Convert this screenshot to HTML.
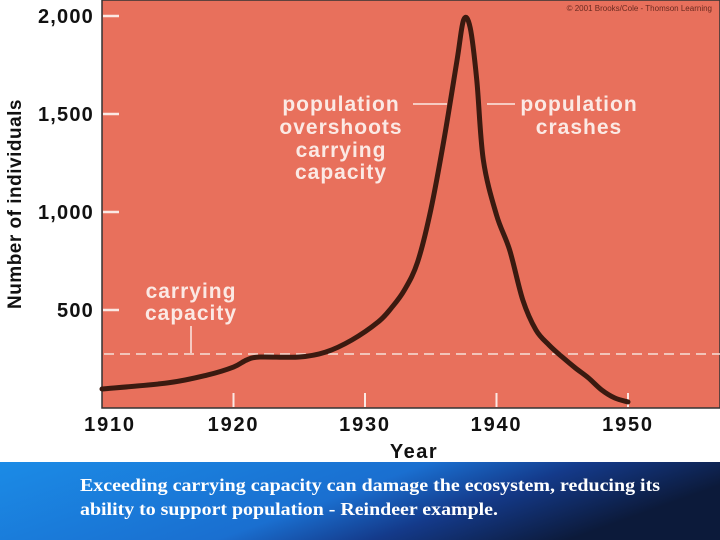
<!DOCTYPE html>
<html><head><meta charset="utf-8"><style>
html,body{margin:0;padding:0;background:#fff;width:720px;height:540px;overflow:hidden}
svg{display:block}
.t{font-family:"Liberation Sans",Arial,sans-serif;font-weight:bold}
</style></head><body>
<svg id="chart" width="720" height="540" viewBox="0 0 720 540" xmlns="http://www.w3.org/2000/svg">
<defs>
<linearGradient id="bg" x1="0" y1="0" x2="1" y2="0.3">
<stop offset="0" stop-color="#1b8be6"/><stop offset="0.55" stop-color="#1a6fd0"/><stop offset="0.75" stop-color="#143a8a"/><stop offset="1" stop-color="#0c1a3a"/>
</linearGradient>
</defs>
<rect x="102" y="0" width="618" height="408" fill="#e8705c" stroke="#333" stroke-width="1.5"/>
<text x="712" y="11" text-anchor="end" font-family="Liberation Sans,sans-serif" font-size="8" fill="#6a2a20">© 2001 Brooks/Cole - Thomson Learning</text>
<g id="axes"></g>
<line x1="104" x2="720" y1="354" y2="354" stroke="#f6e0d8" stroke-width="1.5" stroke-dasharray="10,6"/>
<path id="curve" fill="none" stroke="#3a1a10" stroke-width="5" stroke-linejoin="round" stroke-linecap="round"/>
<g class="t" fill="#fbe9e4" font-size="21" letter-spacing="1" text-anchor="middle">
<text><tspan x="341" y="111">population</tspan><tspan x="341" y="134">overshoots</tspan><tspan x="341" y="157">carrying</tspan><tspan x="341" y="179">capacity</tspan></text>
<text><tspan x="579" y="111">population</tspan><tspan x="579" y="134">crashes</tspan></text>
<text><tspan x="191" y="298">carrying</tspan><tspan x="191" y="320">capacity</tspan></text>
</g>
<g stroke="#fbe9e4" stroke-width="1.5">
<line x1="413" x2="447" y1="104" y2="104"/><line x1="487" x2="515" y1="104" y2="104"/><line x1="191" x2="191" y1="326" y2="353"/>
</g>
<text class="t" x="414" y="458" text-anchor="middle" font-size="20" letter-spacing="1.5" fill="#111">Year</text>
<text class="t" transform="translate(21,204) rotate(-90)" text-anchor="middle" font-size="19" letter-spacing="0.5" fill="#111">Number of individuals</text>
<rect x="0" y="462" width="720" height="78" fill="url(#bg)"/>
<g font-family="Liberation Serif,serif" font-weight="bold" font-size="18" fill="#fff">
<text x="80" y="491" textLength="580" lengthAdjust="spacingAndGlyphs">Exceeding carrying capacity can damage the ecosystem, reducing its</text>
<text x="80" y="515" textLength="418" lengthAdjust="spacingAndGlyphs">ability to support population - Reindeer example.</text>
</g>
</svg>
<script>
const years=[1910,1915,1918,1920,1921,1922,1925,1927,1929,1931,1932,1933,1934,1935,1936,1937,1937.5,1938,1938.5,1939,1940,1941,1942,1943,1944,1945,1946,1947,1948,1949,1950];
const population=[97,128,168,209,245,260,260,285,347,439,510,602,745,1010,1367,1775,1980,1940,1673,1265,985,806,551,398,321,260,204,153,92,51,31];
const yTicks=[500,1000,1500,2000];
const yTickLabels=["500","1,000","1,500","2,000"];
const xTicks=[1910,1920,1930,1940,1950];
const xTickLabels=["1910","1920","1930","1940","1950"];
const xs=y=>102+(y-1910)*13.15;
const ys=v=>408-v*0.196;
const NS="http://www.w3.org/2000/svg";
const axes=document.getElementById('axes');
function mk(tag,attrs){const e=document.createElementNS(NS,tag);for(const k in attrs)e.setAttribute(k,attrs[k]);return e;}
yTicks.forEach((v,i)=>{
 const l=mk('line',{x1:103,x2:119,y1:ys(v),y2:ys(v),stroke:'#fbe9e4','stroke-width':2.5});
 
 
 axes.appendChild(l);
 const t=mk('text',{x:94,y:ys(v)+7,'text-anchor':'end','font-size':20,'letter-spacing':1.2,fill:'#111',class:'t'});
 
 
 t.textContent=yTickLabels[i];axes.appendChild(t);
});
xTicks.forEach((v,i)=>{
 if(v>1910){const l=mk('line',{x1:xs(v),x2:xs(v),y1:393,y2:407,stroke:'#fbe9e4','stroke-width':2});
 
 
 axes.appendChild(l);}
 const t=mk('text',{x:xs(v)+(v===1910?8:0),y:431,'text-anchor':'middle','font-size':20,'letter-spacing':1.8,fill:'#111',class:'t'});
 
 
 t.textContent=xTickLabels[i];axes.appendChild(t);
});
const pts=years.map((y,i)=>[xs(y),ys(population[i])]);
let d='M'+pts[0][0]+','+pts[0][1];
for(let i=0;i<pts.length-1;i++){
 const p0=pts[i-1]||pts[i],p1=pts[i],p2=pts[i+1],p3=pts[i+2]||p2;
 const c1=[p1[0]+(p2[0]-p0[0])/6,p1[1]+(p2[1]-p0[1])/6];
 const c2=[p2[0]-(p3[0]-p1[0])/6,p2[1]-(p3[1]-p1[1])/6];
 d+=' C'+c1+' '+c2+' '+p2;
}
document.getElementById('curve').setAttribute('d',d);
</script>
</body></html>
